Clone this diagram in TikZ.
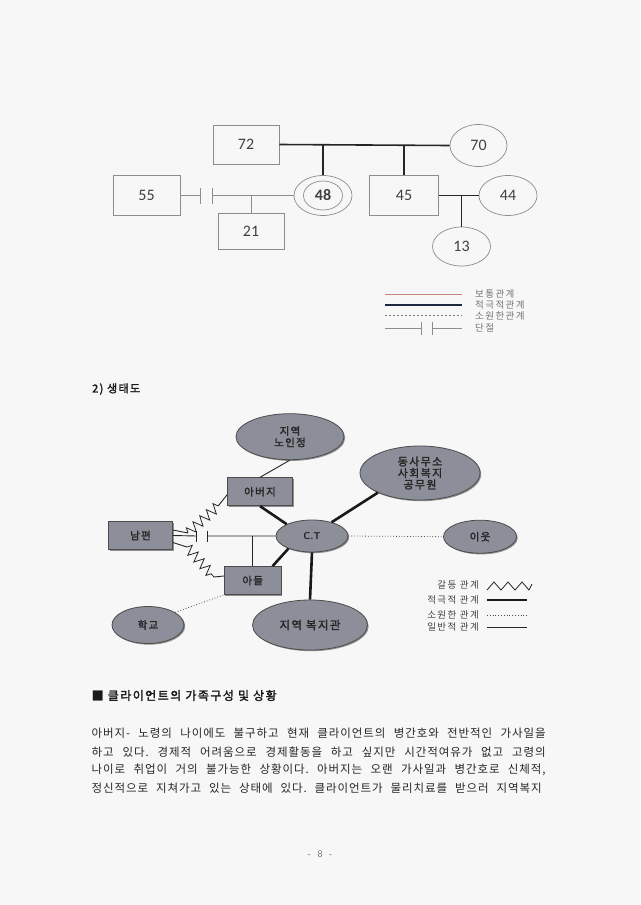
\documentclass[tikz,border=0pt]{standalone}
\usepackage{fontspec}
\newfontfamily\korfont{Noto Sans CJK KR}[LetterSpace=8]
\newfontfamily\korwide{Noto Sans CJK KR}[LetterSpace=15]
\newfontfamily\korbold{Noto Sans CJK KR}[FakeBold=2,LetterSpace=12]
\newfontfamily\numfont{Carlito}
\usepackage{tikz}
\usetikzlibrary{positioning,arrows.meta,calc,shapes.geometric,shadows,decorations.pathmorphing}
\definecolor{pagebg}{HTML}{F7F7F7}
\definecolor{ecofill}{HTML}{8C8F99}
\definecolor{plainred}{HTML}{C8857A}
\definecolor{strongnavy}{HTML}{1E2640}
\frenchspacing

\begin{document}
\begin{tikzpicture}[x=1pt,y=-1pt,every node/.style={inner sep=0pt},
  genbox/.style={draw=black!45,line width=0.7pt,minimum width=66pt,minimum height=39pt,font=\numfont\fontsize{16}{18}\selectfont,text=black!75},
  genoval/.style={genbox,ellipse,minimum width=58pt,minimum height=40pt},
  gentie/.style={line width=1.6pt,black!85},
  genweak/.style={line width=0.6pt,black!45},
  legendtxt/.style={font=\korwide\fontsize{9.5}{11}\selectfont,text=black!55},
  ecobox/.style={draw=black!70,line width=0.8pt,fill=ecofill,drop shadow={shadow xshift=1.2pt,shadow yshift=-1.2pt,fill=black!60,opacity=0.7},font=\korbold\fontsize{10.5}{11.5}\selectfont,text=black!85,align=center},
  ecooval/.style={ecobox,ellipse},
  ecoconflict/.style={line width=0.8pt,black!85,decorate,decoration={zigzag,segment length=9pt,amplitude=5pt}},
  ecostrong/.style={line width=2.6pt,black!90},
  ecoremote/.style={line width=0.8pt,dotted,black!70},
  econormal/.style={line width=0.9pt,black!85},
  ecolegend/.style={font=\korwide\fontsize{9.5}{11}\selectfont,text=black!75},
  bodyline/.style={anchor=west,font=\korfont\fontsize{11.5}{14}\selectfont,text=black!85}]
\useasboundingbox (0,0) rectangle (640,905);
\fill[pagebg] (0,0) rectangle (640,905);

% genogram
\node[genbox] (g72) at (246,144.5) {72};
\node[genoval,minimum width=57pt,minimum height=42pt] (g70) at (478.5,145.5) {70};
\node[genoval] (g48) at (323,195.5) {};
\node[genoval,minimum width=39pt,minimum height=29pt,font=\numfont\bfseries\fontsize{16}{18}\selectfont] (g48in) at (g48) {48};
\node[genbox,minimum width=67pt,minimum height=40pt] (g55) at (146.5,195.5) {55};
\node[genbox,minimum height=36pt] (g21) at (251,231.3) {21};
\node[genbox,minimum width=69pt,minimum height=40pt] (g45) at (404,195.5) {45};
\node[genoval] (g44) at (508,195.5) {44};
\node[genoval,minimum height=39pt] (g13) at (461.5,246.5) {13};
\draw[gentie] (g72.east) -- (g70.west);
\draw[gentie] (g48.north |- g72.east) -- (g48.north);
\draw[gentie] (g45.north |- g72.east) -- (g45.north);
\draw[gentie] (g45.east) -- (g44.west);
\draw[gentie] (g13.north |- g45.east) -- (g13.north);
\coordinate (cut1) at (200,195.5);
\coordinate (cut2) at (212,195.5);
\draw[genweak] (g55.east) -- (cut1) (cut2) -- (g48.west);
\draw[genweak] (cut1) ++(0,-8) -- ++(0,16) (cut2) ++(0,-8) -- ++(0,16);
\draw[genweak] (g21.north) -- (g21.north |- g55.east);

% genogram legend
\coordinate (la1) at (385,294); \coordinate (lb1) at (462,294);
\coordinate (la2) at (385,305); \coordinate (lb2) at (462,305);
\coordinate (la3) at (385,315); \coordinate (lb3) at (462,315);
\coordinate (la4) at (385,328); \coordinate (lb4) at (462,328);
\coordinate (lc4) at (421.5,328); \coordinate (ld4) at (432.5,328);
\draw[line width=0.9pt,plainred] (la1) -- (lb1);
\draw[line width=2pt,strongnavy] (la2) -- (lb2);
\draw[line width=0.7pt,black!50,dash pattern=on 2pt off 2pt] (la3) -- (lb3);
\draw[genweak] (la4) -- (lc4) (ld4) -- (lb4);
\draw[genweak] (lc4) ++(0,-6.5) -- ++(0,13) (ld4) ++(0,-6.5) -- ++(0,13);
\node[legendtxt,anchor=west] (lt1) at (475,294) {보통관계};
\node[legendtxt,anchor=west] (lt2) at (475,305) {적극적관계};
\node[legendtxt,anchor=west] (lt3) at (475,316) {소원한관계};
\node[legendtxt,anchor=west] (lt4) at (475,327.5) {단절};

\node[anchor=west,font=\korbold\fontsize{11}{12}\selectfont,text=black!90] (h2) at (92,389) {2) 생태도};

% ecomap
\node[ecooval,minimum width=108pt,minimum height=46pt] (senior) at (290,436.7) {지역\\노인정};
\node[ecobox,minimum width=65pt,minimum height=28pt] (dad) at (260,491.7) {아버지};
\node[ecobox,minimum width=64pt,minimum height=28pt] (husband) at (140.5,535.5) {남편};
\node[ecooval,minimum width=72pt,minimum height=32pt,font=\sffamily\bfseries\fontsize{10}{11}\selectfont] (ct) at (312,536) {C.T};
\node[ecobox,minimum width=57pt,minimum height=28pt] (son) at (252.7,580.5) {아들};
\node[ecooval,minimum width=72pt,minimum height=37pt] (school) at (148,625) {학교};
\node[ecooval,minimum width=115pt,minimum height=50pt,font=\korbold\fontsize{11.5}{13}\selectfont] (welfare) at (310,625) {지역 복지관};
\node[ecooval,minimum width=120pt,minimum height=54pt,font=\korbold\fontsize{11}{11.5}\selectfont] (office) at (420,473) {동사무소\\사회복지\\공무원};
\node[ecooval,minimum width=73pt,minimum height=33pt] (neighbor) at (480,536.7) {이웃};

\draw[econormal] (senior.south) -- (dad.north);
\draw[ecostrong] (dad.south) -- (ct.155);
\draw[ecostrong] (ct.35) -- (office.205);
\draw[ecoremote] (ct.east) -- (neighbor.west);
\draw[ecostrong] (ct.208) -- ([xshift=-9pt]son.north east);
\draw[ecostrong] (ct.south) -- (welfare.north);
\draw[ecoremote] (school.25) -- (son.south west);
\coordinate (cut3) at (196.7,536);
\coordinate (cut4) at (207.7,536);
\draw[econormal] (husband.east) -- (cut3) (cut4) -- (ct.west);
\draw[econormal] (cut3) ++(0,-5.5) -- ++(0,11) (cut4) ++(0,-5.5) -- ++(0,11);
\draw[econormal] (son.north) -- (son.north |- ct.west);
\coordinate (za1) at (188,533);
\coordinate (za2) at (219,505);
\coordinate (zb1) at (187,547);
\coordinate (zb2) at (214,577);
\draw[econormal] ([yshift=5.5pt]husband.east) -- (za1);
\draw[ecoconflict] (za1) -- (za2);
\draw[econormal] (za2) -- ([yshift=-3pt]dad.west);
\draw[econormal] ([yshift=-7pt]husband.east) -- (zb1);
\draw[ecoconflict] (zb1) -- (zb2);
\draw[econormal] (zb2) -- ([yshift=4.5pt]son.west);

% ecomap legend
\node[ecolegend,anchor=east] (k1) at (479,585) {갈등 관계};
\node[ecolegend,anchor=east] (k2) at (479,600) {적극적 관계};
\node[ecolegend,anchor=east] (k3) at (479,614.5) {소원한 관계};
\node[ecolegend,anchor=east] (k4) at (479,627) {일반적 관계};
\coordinate (ka1) at (487,590); \coordinate (kb1) at (532,584);
\coordinate (ka2) at (487,600); \coordinate (kb2) at (527,600);
\coordinate (ka3) at (487,615); \coordinate (kb3) at (527,615);
\coordinate (ka4) at (487,627); \coordinate (kb4) at (527,627);
\draw[line width=0.8pt,black!85] (ka1) -- ++(7,-8) -- ++(7,8) -- ++(7,-8) -- ++(7,8) -- ++(7,-8) -- ++(7,8) -- (kb1);
\draw[ecostrong,line width=2pt] (ka2) -- (kb2);
\draw[ecoremote] (ka3) -- (kb3);
\draw[econormal] (ka4) -- (kb4);

% text below
\node[anchor=west,font=\korbold\fontsize{12}{13}\selectfont,text=black!90] (h3) at (91.5,695.5) {■ 클라이언트의 가족구성 및 상황};
\node[bodyline] (p1) at (91.5,733.5) {\makebox[454pt][s]{아버지- 노령의 나이에도 불구하고 현재 클라이언트의 병간호와 전반적인 가사일을}};
\node[bodyline] (p2) at (91.5,751.7) {\makebox[454pt][s]{하고 있다. 경제적 어려움으로 경제활동을 하고 싶지만 시간적여유가 없고 고령의}};
\node[bodyline] (p3) at (91.5,770) {\makebox[454pt][s]{나이로 취업이 거의 불가능한 상황이다. 아버지는 오랜 가사일과 병간호로 신체적,}};
\node[bodyline] (p4) at (91.5,788.3) {\makebox[450pt][s]{정신적으로 지쳐가고 있는 상태에 있다. 클라이언트가 물리치료를 받으러 지역복지}};
\node[font=\sffamily\fontsize{10}{12}\selectfont,text=black!55] (pg) at (320,854) {-~~8~~-};
\end{tikzpicture}
\end{document}
